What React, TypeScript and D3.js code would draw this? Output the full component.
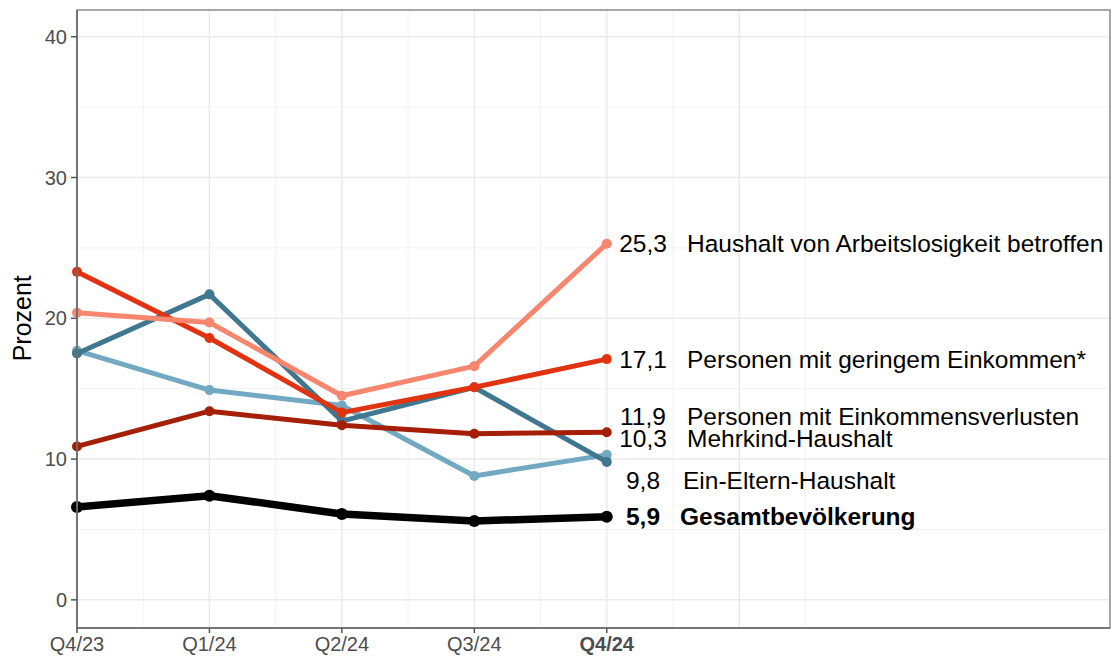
import React from "react";
import * as d3 from "d3";

const quarters = ["Q4/23", "Q1/24", "Q2/24", "Q3/24", "Q4/24"];
const yTicks = [0, 10, 20, 30, 40];

const gesamt = [6.6, 7.4, 6.1, 5.6, 5.9];
const einkommensverluste = [10.9, 13.4, 12.4, 11.8, 11.9];
const geringesEinkommen = [23.3, 18.6, 13.3, 15.1, 17.1];
const arbeitslosigkeit = [20.4, 19.7, 14.5, 16.6, 25.3];
const einEltern = [17.5, 21.7, 12.7, 15.1, 9.8];
const mehrkind = [17.7, 14.9, 13.8, 8.8, 10.3];

const seriesNames = [
  "Haushalt von Arbeitslosigkeit betroffen",
  "Personen mit geringem Einkommen*",
  "Personen mit Einkommensverlusten",
  "Mehrkind-Haushalt",
  "Ein-Eltern-Haushalt",
  "Gesamtbevölkerung",
];
const seriesValues = [arbeitslosigkeit, geringesEinkommen, einkommensverluste, mehrkind, einEltern, gesamt];
const seriesColors = ["#F6866E", "#E1330F", "#A51F06", "#72A9C2", "#3F7690", "#000000"];
const labelValues = ["25,3", "17,1", "11,9", "10,3", "9,8", "5,9"];
const labelY = [25.3, 17.1, 13.05, 11.45, 8.5, 5.9];

const W = 1113, H = 659;
const left = 77, right = 1110, top = 10, bottom = 628;

export default function App() {
  const x = d3.scaleLinear().domain([0, 7.8]).range([left, right]);
  const y = d3.scaleLinear().domain([-2, 41.9]).range([bottom, top]);
  const line = d3.line<number>().x((_, i) => x(i)).y((d) => y(d));
  const font = "Liberation Sans, Arial, sans-serif";
  const majorX = d3.range(0, 6);
  const minorX = d3.range(0.5, 6, 1);
  const minorY = [5, 15, 25, 35];

  const order = [3, 4, 2, 1, 0, 5];

  return (
    <svg width={W} height={H} style={{ position: "absolute", left: 0, top: 0 }} fontFamily={font}>
      <rect x={0} y={0} width={W} height={H} fill="#fff" />
      {minorY.map((v) => (
        <line key={"my" + v} x1={left} x2={right} y1={y(v)} y2={y(v)} stroke="#f2f2f2" strokeWidth={1} />
      ))}
      {minorX.map((v) => (
        <line key={"mx" + v} x1={x(v)} x2={x(v)} y1={top} y2={bottom} stroke="#f2f2f2" strokeWidth={1} />
      ))}
      {yTicks.map((v) => (
        <line key={"gy" + v} x1={left} x2={right} y1={y(v)} y2={y(v)} stroke="#ebebeb" strokeWidth={1.5} />
      ))}
      {majorX.map((v) => (
        <line key={"gx" + v} x1={x(v)} x2={x(v)} y1={top} y2={bottom} stroke="#ebebeb" strokeWidth={1.5} />
      ))}
      {order.map((si) => {
        const vals = seriesValues[si];
        const isBlack = si === 5;
        return (
          <g key={"s" + si}>
            <path d={line(vals) || ""} fill="none" stroke={seriesColors[si]} strokeWidth={isBlack ? 7.5 : 5} strokeLinejoin="round" />
            {vals.map((v, i) => (
              <circle key={i} cx={x(i)} cy={y(v)} r={isBlack ? 6 : 5} fill={seriesColors[si]} />
            ))}
          </g>
        );
      })}
      {seriesNames.map((n, i) => {
        const bold = i === 5;
        return (
          <g key={"l" + i} fontSize={24.5} fill="#000" fontWeight={bold ? "bold" : "normal"}>
            <text x={643} y={y(labelY[i])} dy="0.35em" textAnchor="middle">{labelValues[i]}</text>
            <text x={bold ? 680 : i === 4 ? 683 : 687} y={y(labelY[i])} dy="0.35em">{n}</text>
          </g>
        );
      })}
      <rect x={left} y={top} width={right - left} height={bottom - top} fill="none" stroke="#8a8a8a" strokeWidth={1.5} />
      <line x1={left} x2={left} y1={top} y2={bottom} stroke="#666" strokeWidth={1.5} />
      <line x1={left} x2={right} y1={bottom} y2={bottom} stroke="#666" strokeWidth={1.5} />
      {yTicks.map((v) => (
        <g key={"ty" + v}>
          <line x1={left - 6} x2={left} y1={y(v)} y2={y(v)} stroke="#555" strokeWidth={1.5} />
          <text x={left - 10} y={y(v)} dy="0.36em" textAnchor="end" fontSize={20} fill="#4d4d4d">{v}</text>
        </g>
      ))}
      {quarters.map((q, i) => (
        <g key={"tx" + q}>
          <line x1={x(i)} x2={x(i)} y1={bottom} y2={bottom + 5} stroke="#555" strokeWidth={1.5} />
          <text x={x(i)} y={bottom + 23} textAnchor="middle" fontSize={20} fill="#4d4d4d" fontWeight={i === 4 ? "bold" : "normal"}>{q}</text>
        </g>
      ))}
      <text transform={`translate(31,${y(20)}) rotate(-90)`} textAnchor="middle" fontSize={25} fill="#000">Prozent</text>
    </svg>
  );
}
